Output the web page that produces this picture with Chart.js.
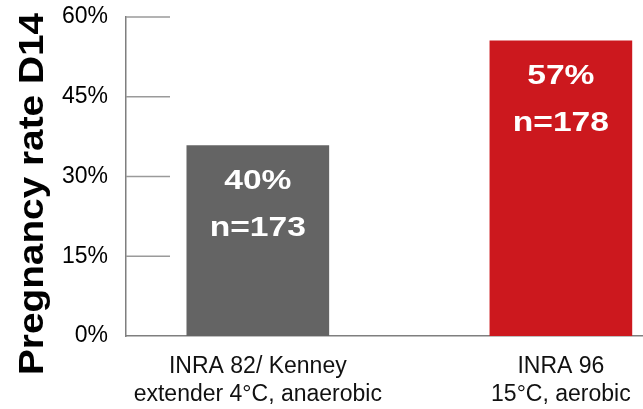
<!DOCTYPE html>
<html>
<head>
<meta charset="utf-8">
<script src="https://cdn.jsdelivr.net/npm/chart.js@4.4.0/dist/chart.umd.min.js"></script>
<style>
    html, body { margin: 0; padding: 0; background: #fff; }
</style>
</head>
<body>
<canvas id="chart" width="643" height="409"></canvas>
<script>
"use strict";

// カテゴリ（2行ラベル）
const categories = [
    ['INRA 82/ Kenney', 'extender 4°C, anaerobic'],
    ['INRA 96', '15°C, aerobic']
];
// 棒の高さ（図から読み取り、%）
const rates = [35.8, 55.5];
// 棒の中の表示
const rateLabels = ['40%', '57%'];
const countLabels = ['n=173', 'n=178'];
const barColors = ['#646464', '#cc181e'];
// y軸目盛
const yTicks = [0, 15, 30, 45, 60];
const yTitle = 'Pregnancy rate D14';

const FONT = '"Liberation Sans", Arial, sans-serif';

// 短い目盛線
const stubGrid = {
    id: 'stubGrid',
    beforeDatasetsDraw(chart) {
        const {ctx, chartArea, scales: {y}} = chart;
        ctx.save();
        ctx.strokeStyle = '#9a9a9a';
        ctx.lineWidth = 1.5;
        y.ticks.forEach(t => {
            if (t.value === 0) return;
            const py = y.getPixelForValue(t.value);
            ctx.beginPath();
            ctx.moveTo(chartArea.left, py);
            ctx.lineTo(chartArea.left + 44, py);
            ctx.stroke();
        });
        ctx.restore();
    }
};

// 棒の中のラベル
const barText = {
    id: 'barText',
    afterDatasetsDraw(chart) {
        const ctx = chart.ctx;
        const meta = chart.getDatasetMeta(0);
        ctx.save();
        ctx.fillStyle = '#ffffff';
        ctx.font = 'bold 28px ' + FONT;
        ctx.textAlign = 'center';
        ctx.textBaseline = 'alphabetic';
        meta.data.forEach((bar, i) => {
            [[rateLabels[i], 43], [countLabels[i], 90.5]].forEach(([txt, dy]) => {
                ctx.save();
                ctx.translate(bar.x, bar.y + dy);
                ctx.scale(1.2, 1);
                ctx.fillText(txt, 0, 0);
                ctx.restore();
            });
        });
        ctx.restore();
    }
};

// y軸タイトル
const sideTitle = {
    id: 'sideTitle',
    afterDraw(chart) {
        const ctx = chart.ctx;
        ctx.save();
        ctx.translate(43, 194);
        ctx.rotate(-Math.PI / 2);
        ctx.scale(1.108, 1);
        ctx.fillStyle = '#000';
        ctx.font = 'bold 35px ' + FONT;
        ctx.textAlign = 'center';
        ctx.textBaseline = 'alphabetic';
        ctx.fillText(yTitle, 0, 0);
        ctx.restore();
    }
};

const ctx = document.getElementById('chart');
new Chart(ctx, {
    type: 'bar',
    data: {
        datasets: [{
            data: rates.map((v, i) => ({x: i + 1, y: v})),
            backgroundColor: barColors,
            borderWidth: 0,
            barThickness: 142
        }]
    },
    options: {
        responsive: false,
        animation: false,
        layout: { padding: {top: 17, right: 0, bottom: 0, left: 0} },
        plugins: {
            legend: { display: false },
            tooltip: { enabled: false }
        },
        scales: {
            x: {
                type: 'linear',
                min: 0.565,
                max: 2.271,
                offset: false,
                grid: { display: false, offset: false },
                border: { color: '#7f7f7f', width: 1.5 },
                afterBuildTicks: s => { s.ticks = categories.map((c, i) => ({value: i + 1})); },
                afterFit: s => { s.height = 73; },
                ticks: {
                    autoSkip: false,
                    maxRotation: 0,
                    padding: 8,
                    color: '#111',
                    font: { family: FONT, size: 23, lineHeight: 1.25 },
                    callback: v => categories[v - 1]
                }
            },
            y: {
                min: 0,
                max: 60,
                grid: { display: false, drawTicks: true, tickLength: 18 },
                border: { color: '#7f7f7f', width: 1.5 },
                afterBuildTicks: s => { s.ticks = yTicks.map(v => ({value: v})); },
                afterFit: s => { s.width = 126; },
                ticks: {
                    padding: 0,
                    color: '#000',
                    font: { family: FONT, size: 23 },
                    callback: v => v + '%'
                }
            }
        }
    },
    plugins: [stubGrid, barText, sideTitle]
});
</script>
</body>
</html>
